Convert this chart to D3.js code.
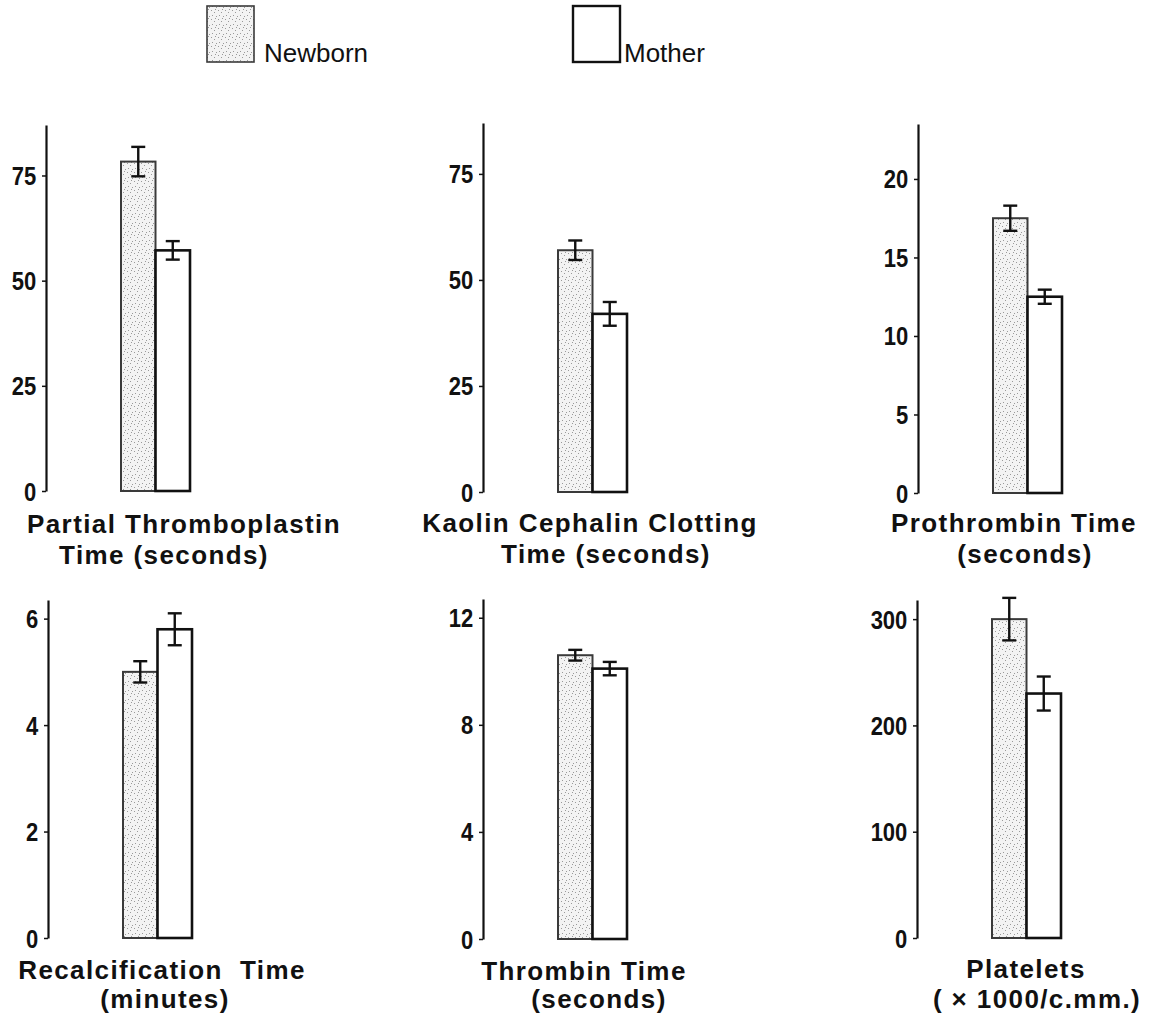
<!DOCTYPE html>
<html>
<head>
<meta charset="utf-8">
<script src="https://cdn.jsdelivr.net/npm/d3@7"></script>
<style>
    body { margin: 0; background: #fff; }
    svg { display: block; }
    .tick text { font-family: "Liberation Sans", Arial, sans-serif; font-weight: bold; font-size: 25px; fill: #111; }
    .title { font-family: "Liberation Sans", Arial, sans-serif; font-weight: bold; font-size: 26px; letter-spacing: 1.4px; fill: #111; }
    .legend-text { font-family: "Liberation Sans", Arial, sans-serif; font-size: 26px; fill: #111; }
</style>
</head>
<body>
<svg id="chart" width="1153" height="1018"></svg>
<script>
// data
const groups = ['Newborn', 'Mother'];
const titles = [
    ['Partial Thromboplastin', 'Time (seconds)'],
    ['Kaolin Cephalin Clotting', 'Time (seconds)'],
    ['Prothrombin Time', '(seconds)'],
    ['Recalcification  Time', '(minutes)'],
    ['Thrombin Time', '(seconds)'],
    ['Platelets', '( × 1000/c.mm.)']
];
const newbornMean = [78.3, 57.0, 17.5, 5.0, 10.6, 300];
const newbornErr = [3.5, 2.3, 0.8, 0.2, 0.2, 20];
const motherMean = [57.2, 42.0, 12.5, 5.8, 10.1, 230];
const motherErr = [2.2, 2.8, 0.45, 0.3, 0.25, 16];
const yTicks = [[0, 25, 50, 75], [0, 25, 50, 75], [0, 5, 10, 15, 20], [0, 2, 4, 6], [0, 4, 8, 12], [0, 100, 200, 300]];
const yMax = [87, 87, 23.5, 6.35, 12.7, 318];

// where each little chart sits on the page
const layout = [
    {ax: 46, y0: 491, y1: 125, t1: [184, 533], t2: [164, 564]},
    {ax: 483, y0: 492, y1: 123, t1: [590, 532], t2: [606, 563]},
    {ax: 918, y0: 493, y1: 124, t1: [1014, 532], t2: [1025, 563]},
    {ax: 48, y0: 938, y1: 600, t1: [162, 979], t2: [165, 1008]},
    {ax: 483, y0: 939, y1: 599, t1: [584, 980], t2: [599, 1008]},
    {ax: 917, y0: 938, y1: 600, t1: [1026, 978], t2: [1037, 1008]}
];

const svg = d3.select('#chart');

// stippled fill for the newborn bars
const pat = svg.append('defs').append('pattern')
    .attr('id', 'stipple')
    .attr('patternUnits', 'userSpaceOnUse')
    .attr('width', 7)
    .attr('height', 9);
pat.append('rect').attr('width', 7).attr('height', 9).attr('fill', '#f3f3f3');
[[1, 1], [4, 3], [2, 6], [6, 7], [5, 0]].forEach(p => {
    pat.append('rect').attr('x', p[0]).attr('y', p[1]).attr('width', 1).attr('height', 1).attr('fill', '#9a9a9a');
});

const fills = {Newborn: 'url(#stipple)', Mother: '#fff'};
const strokes = {Newborn: '#3a3a3a', Mother: '#111'};

layout.forEach((L, i) => {
    const g = svg.append('g');
    const y = d3.scaleLinear().domain([0, yMax[i]]).range([L.y0, L.y1]);
    const x = d3.scaleBand().domain(groups).range([L.ax + 75, L.ax + 144]);

    const axis = g.append('g')
        .attr('transform', 'translate(' + L.ax + ',0)')
        .call(d3.axisLeft(y).tickValues(yTicks[i]).tickFormat(d3.format('d'))
            .tickSize(4).tickSizeOuter(0).tickPadding(7));
    axis.select('.domain').attr('stroke', '#111').attr('stroke-width', 2.2);
    axis.selectAll('.tick line').attr('stroke', '#111').attr('stroke-width', 1.5);
    // the printed digits are a little narrow
    axis.selectAll('.tick text').attr('transform', 'scale(0.88,1)').attr('dy', '0.36em');

    const rows = groups.map(k => ({
        key: k,
        mean: k === 'Newborn' ? newbornMean[i] : motherMean[i],
        err: k === 'Newborn' ? newbornErr[i] : motherErr[i]
    }));

    g.selectAll('rect.bar')
        .data(rows)
        .enter()
        .append('rect')
        .attr('class', 'bar')
        .attr('x', d => x(d.key))
        .attr('y', d => y(d.mean))
        .attr('width', x.bandwidth())
        .attr('height', d => y(0) - y(d.mean))
        .attr('fill', d => fills[d.key])
        .attr('stroke', d => strokes[d.key])
        .attr('stroke-width', d => d.key === 'Newborn' ? 2 : 2.6);

    // error bars
    const eb = g.selectAll('g.err')
        .data(rows)
        .enter()
        .append('g')
        .attr('class', 'err')
        .attr('stroke', '#111')
        .attr('stroke-width', 2.4);
    const cx = d => x(d.key) + x.bandwidth() / 2;
    eb.append('line')
        .attr('x1', cx).attr('x2', cx)
        .attr('y1', d => y(d.mean + d.err))
        .attr('y2', d => y(d.mean - d.err));
    eb.append('line')
        .attr('x1', d => cx(d) - 7).attr('x2', d => cx(d) + 7)
        .attr('y1', d => y(d.mean + d.err))
        .attr('y2', d => y(d.mean + d.err));
    eb.append('line')
        .attr('x1', d => cx(d) - 7).attr('x2', d => cx(d) + 7)
        .attr('y1', d => y(d.mean - d.err))
        .attr('y2', d => y(d.mean - d.err));

    g.append('text').attr('class', 'title')
        .attr('x', L.t1[0]).attr('y', L.t1[1])
        .attr('text-anchor', 'middle')
        .attr('xml:space', 'preserve')
        .text(titles[i][0]);
    g.append('text').attr('class', 'title')
        .attr('x', L.t2[0]).attr('y', L.t2[1])
        .attr('text-anchor', 'middle')
        .text(titles[i][1]);
});

// legend
const legend = [
    {key: 'Newborn', x: 207, tx: 264},
    {key: 'Mother', x: 573, tx: 624}
];
legend.forEach(d => {
    svg.append('rect')
        .attr('x', d.x).attr('y', 6)
        .attr('width', 47).attr('height', 56)
        .attr('fill', fills[d.key])
        .attr('stroke', strokes[d.key])
        .attr('stroke-width', d.key === 'Newborn' ? 1.6 : 2.4);
    svg.append('text').attr('class', 'legend-text')
        .attr('x', d.tx).attr('y', 62)
        .text(d.key);
});
</script>
</body>
</html>
